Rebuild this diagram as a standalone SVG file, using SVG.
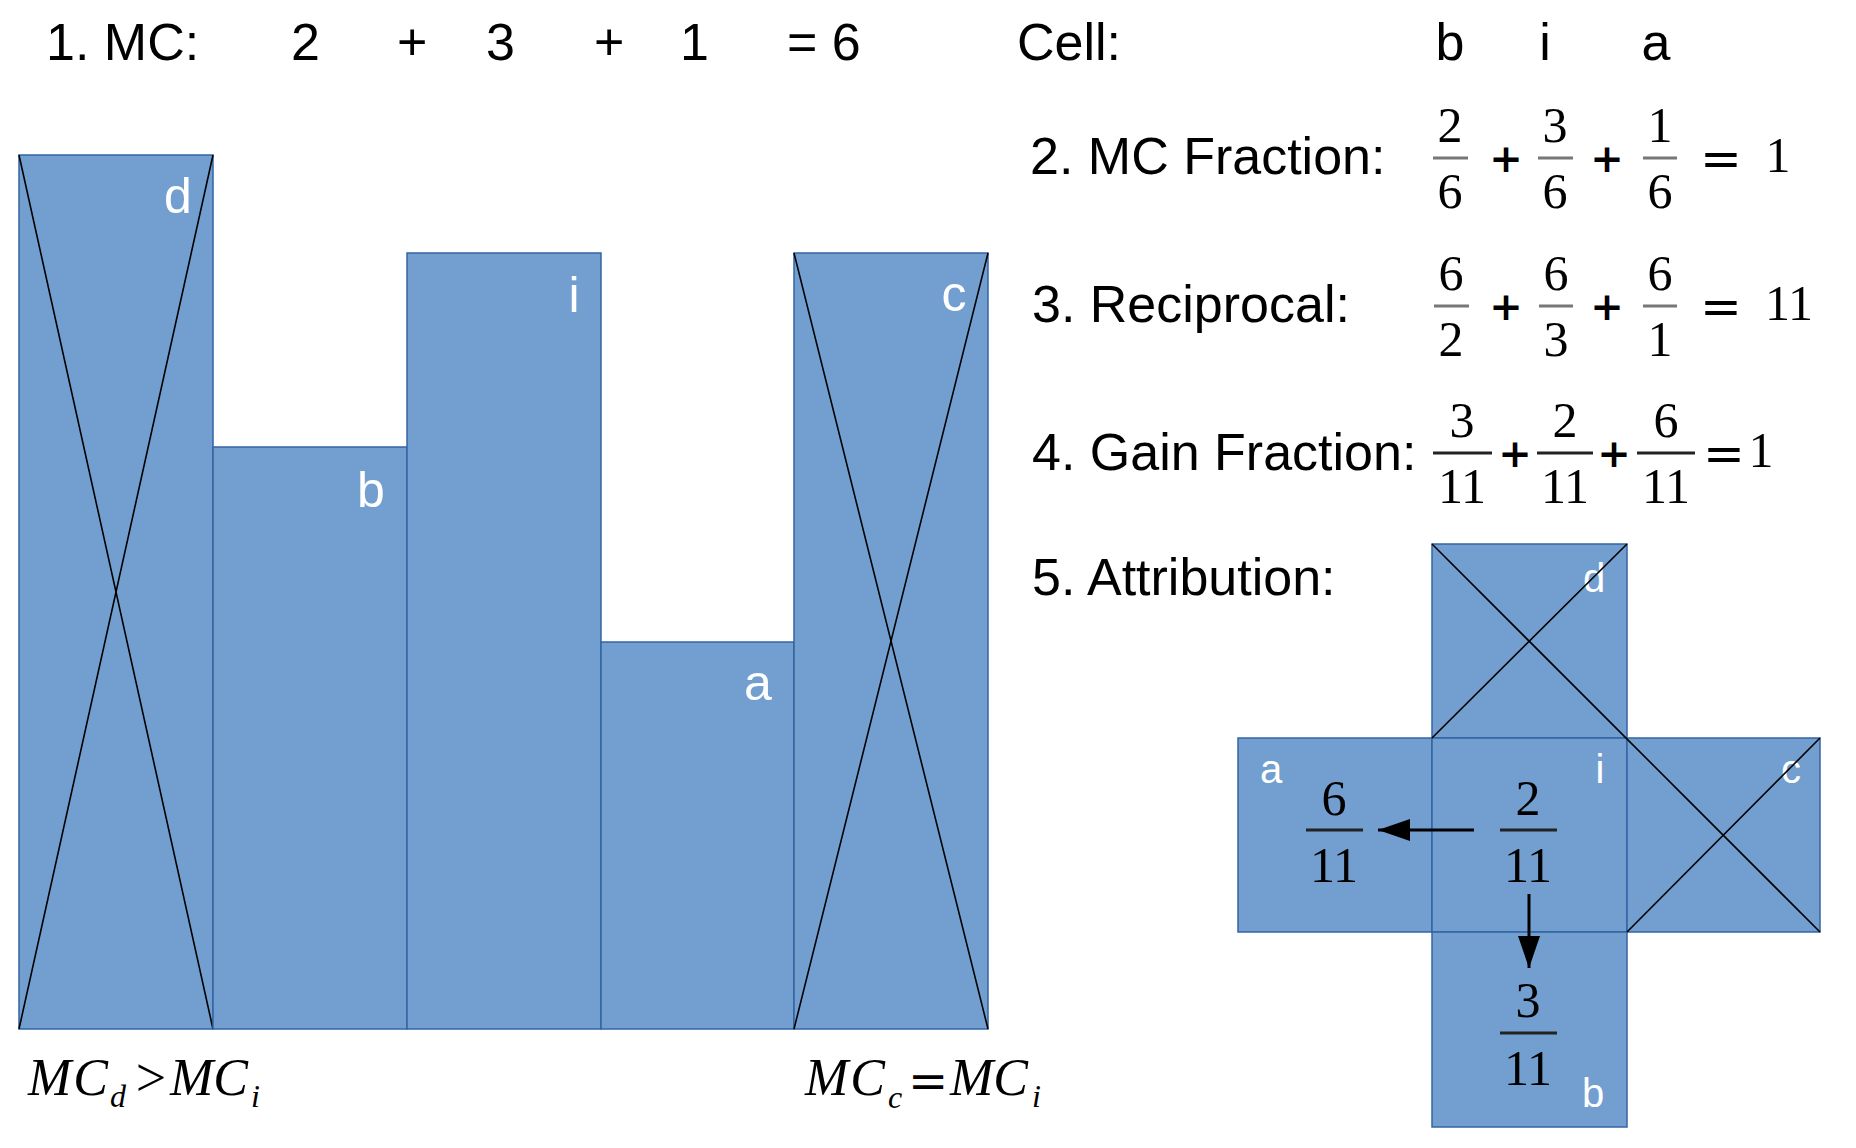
<svg xmlns="http://www.w3.org/2000/svg" width="1856" height="1148" viewBox="0 0 1856 1148">
<style>
.t{font-family:"Liberation Sans",Arial,sans-serif;font-size:52px;fill:#000}
.lbl{font-family:"Liberation Sans",Arial,sans-serif;font-size:50px;fill:#fff;text-anchor:middle}
.lbs{font-family:"Liberation Sans",Arial,sans-serif;font-size:40px;fill:#fff;text-anchor:middle}
.n{font-family:"Liberation Serif","Times New Roman",serif;font-size:50px;fill:#000;text-anchor:middle}
.op{font-family:"DejaVu Serif",serif;font-size:40px;fill:#000;text-anchor:middle;font-weight:bold}
.eq{font-family:"DejaVu Serif",serif;font-size:50px;fill:#000;text-anchor:middle}
.mi{font-family:"Liberation Serif","Times New Roman",serif;font-size:52px;font-style:italic;fill:#000}
.sub{font-family:"Liberation Serif","Times New Roman",serif;font-size:32px;font-style:italic;fill:#000}
.box{fill:#729fcf;stroke:#3465a4;stroke-width:1.5}
.x{stroke:#000;stroke-width:1.6;fill:none}
.fb{stroke:#777;stroke-width:3}
.fd{stroke:#222;stroke-width:3}
.arr{stroke:#000;stroke-width:3;fill:none}
</style>
<defs>
<marker id="ah" markerUnits="userSpaceOnUse" markerWidth="34" markerHeight="24" refX="32" refY="11" orient="auto">
<path d="M0,0 L32,11 L0,22 Z" fill="#000"/>
</marker>
</defs>
<rect width="1856" height="1148" fill="#fff"/>

<g id="header">
<text class="t" x="46" y="60">1. MC:</text>
<text class="t" x="291" y="60">2</text>
<text class="t" x="397" y="60">+</text>
<text class="t" x="486" y="60">3</text>
<text class="t" x="594" y="60">+</text>
<text class="t" x="680" y="60">1</text>
<text class="t" x="787" y="60">= 6</text>
<text class="t" x="1017" y="60">Cell:</text>
<text class="t" x="1450" y="60" text-anchor="middle">b</text>
<text class="t" x="1545" y="60" text-anchor="middle">i</text>
<text class="t" x="1656" y="60" text-anchor="middle">a</text>
</g>

<g id="bar-d">
<rect class="box" x="19" y="155" width="194" height="874"/>
<text class="lbl" x="178" y="213">d</text>
<line class="x" x1="19" y1="155" x2="213" y2="1029"/>
<line class="x" x1="213" y1="155" x2="19" y2="1029"/>
</g>
<g id="bar-b">
<rect class="box" x="213" y="447" width="194" height="582"/>
<text class="lbl" x="371" y="507">b</text>
</g>
<g id="bar-i">
<rect class="box" x="407" y="253" width="194" height="776"/>
<text class="lbl" x="574" y="312">i</text>
</g>
<g id="bar-a">
<rect class="box" x="601" y="642" width="193" height="387"/>
<text class="lbl" x="758" y="700">a</text>
</g>
<g id="bar-c">
<rect class="box" x="794" y="253" width="194" height="776"/>
<text class="lbl" x="954" y="311">c</text>
<line class="x" x1="794" y1="253" x2="988" y2="1029"/>
<line class="x" x1="988" y1="253" x2="794" y2="1029"/>
</g>

<g id="label-mcd">
<text class="mi" x="28" y="1095" textLength="80" lengthAdjust="spacing">MC</text>
<text class="sub" x="110" y="1107">d</text>
<text class="eq" x="151" y="1096" style="font-family:'Liberation Serif',serif;font-size:54px">&gt;</text>
<text class="mi" x="170" y="1095" textLength="78" lengthAdjust="spacing">MC</text>
<text class="sub" x="251" y="1107">i</text>
</g>
<g id="label-mcc">
<text class="mi" x="805" y="1095" textLength="80" lengthAdjust="spacing">MC</text>
<text class="sub" x="888" y="1108">c</text>
<text class="eq" x="928" y="1098" style="font-size:48px">=</text>
<text class="mi" x="950" y="1095" textLength="78" lengthAdjust="spacing">MC</text>
<text class="sub" x="1032" y="1107">i</text>
</g>

<g id="row2">
<text class="t" x="1030" y="174">2. MC Fraction:</text>
<text class="n" x="1450" y="142">2</text><line class="fb" x1="1433" y1="158" x2="1468" y2="158"/><text class="n" x="1450" y="208">6</text>
<text class="op" x="1506" y="172">+</text>
<text class="n" x="1555" y="142">3</text><line class="fb" x1="1538" y1="158" x2="1573" y2="158"/><text class="n" x="1555" y="208">6</text>
<text class="op" x="1607" y="172">+</text>
<text class="n" x="1660" y="142">1</text><line class="fb" x1="1643" y1="158" x2="1677" y2="158"/><text class="n" x="1660" y="208">6</text>
<text class="eq" x="1721" y="176">=</text>
<text class="n" x="1778" y="172">1</text>
</g>

<g id="row3">
<text class="t" x="1032" y="322">3. Reciprocal:</text>
<text class="n" x="1451" y="290">6</text><line class="fb" x1="1434" y1="306" x2="1469" y2="306"/><text class="n" x="1451" y="356">2</text>
<text class="op" x="1506" y="320">+</text>
<text class="n" x="1556" y="290">6</text><line class="fb" x1="1539" y1="306" x2="1573" y2="306"/><text class="n" x="1556" y="356">3</text>
<text class="op" x="1607" y="320">+</text>
<text class="n" x="1660" y="290">6</text><line class="fb" x1="1643" y1="306" x2="1677" y2="306"/><text class="n" x="1660" y="356">1</text>
<text class="eq" x="1721" y="324">=</text>
<text class="n" x="1789" y="320">11</text>
</g>

<g id="row4">
<text class="t" x="1032" y="470">4. Gain Fraction:</text>
<text class="n" x="1462" y="437">3</text><line class="fd" x1="1433" y1="453" x2="1492" y2="453"/><text class="n" x="1462" y="503">11</text>
<text class="op" x="1515" y="467">+</text>
<text class="n" x="1565" y="437">2</text><line class="fd" x1="1537" y1="453" x2="1593" y2="453"/><text class="n" x="1565" y="503">11</text>
<text class="op" x="1614" y="467">+</text>
<text class="n" x="1666" y="437">6</text><line class="fd" x1="1637" y1="453" x2="1695" y2="453"/><text class="n" x="1666" y="503">11</text>
<text class="eq" x="1724" y="471">=</text>
<text class="n" x="1761" y="467">1</text>
</g>

<g id="row5">
<text class="t" x="1032" y="595">5. Attribution:</text>
</g>

<g id="cell-d">
<rect class="box" x="1432" y="544" width="195" height="194"/>
<text class="lbs" x="1594" y="592">d</text>
</g>
<g id="cell-a">
<rect class="box" x="1238" y="738" width="194" height="194"/>
<text class="lbs" x="1271" y="783">a</text>
<text class="n" x="1334" y="815">6</text><line class="fd" x1="1306" y1="830" x2="1363" y2="830"/><text class="n" x="1334" y="882">11</text>
</g>
<g id="cell-i">
<rect class="box" x="1432" y="738" width="195" height="194"/>
<text class="lbs" x="1600" y="783">i</text>
<text class="n" x="1528" y="815">2</text><line class="fd" x1="1500" y1="830" x2="1557" y2="830"/><text class="n" x="1528" y="882">11</text>
</g>
<g id="cell-c">
<rect class="box" x="1627" y="738" width="193" height="194"/>
<text class="lbs" x="1791" y="783">c</text>
</g>
<g id="cell-b">
<rect class="box" x="1432" y="932" width="195" height="195"/>
<text class="lbs" x="1593" y="1107">b</text>
<text class="n" x="1528" y="1017">3</text><line class="fd" x1="1500" y1="1033" x2="1557" y2="1033"/><text class="n" x="1528" y="1085">11</text>
</g>

<g id="cross-lines">
<line class="x" x1="1432" y1="544" x2="1820" y2="932"/>
<line class="x" x1="1627" y1="544" x2="1432" y2="738"/>
<line class="x" x1="1820" y1="738" x2="1627" y2="932"/>
</g>

<g id="connectors">
<line class="arr" x1="1474" y1="830" x2="1378" y2="830" marker-end="url(#ah)"/>
<line class="arr" x1="1529" y1="894" x2="1529" y2="968" marker-end="url(#ah)"/>
</g>
</svg>
